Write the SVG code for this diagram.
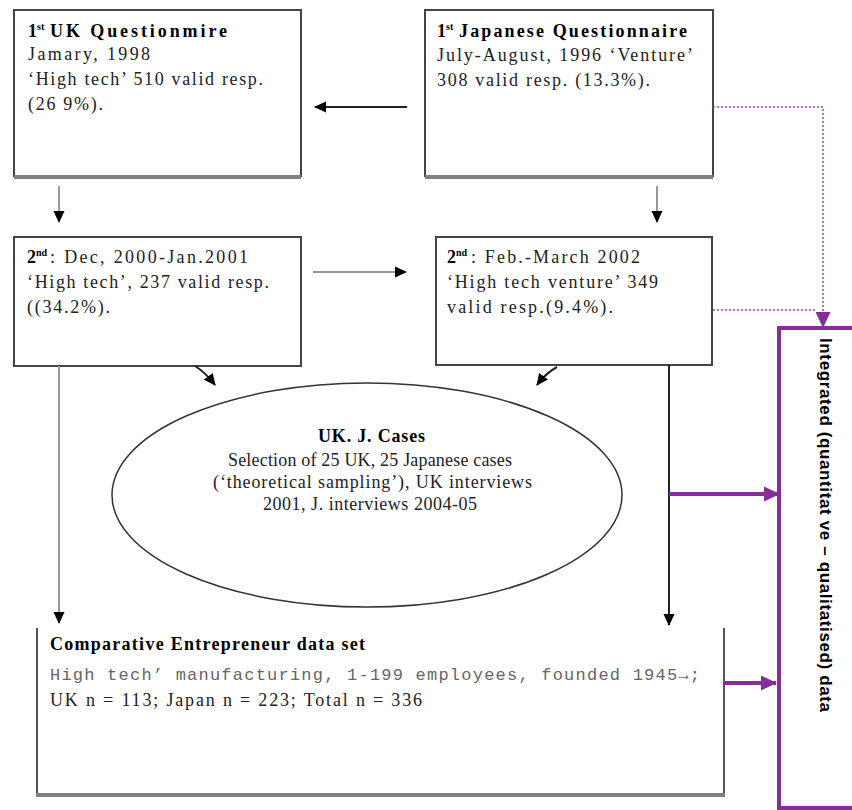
<svg xmlns="http://www.w3.org/2000/svg" width="852" height="810" viewBox="0 0 852 810">
<defs>
<marker id="ah" markerUnits="userSpaceOnUse" markerWidth="12" markerHeight="12" viewBox="0 0 12 12" refX="11" refY="6" orient="auto"><path d="M0,0.5 L12,6 L0,11.5 Z" fill="#000"/></marker>
<marker id="ahp" markerUnits="userSpaceOnUse" markerWidth="16" markerHeight="16" viewBox="0 0 16 16" refX="15" refY="8" orient="auto"><path d="M0,0.5 L16,8 L0,15.5 Z" fill="#862d9a"/></marker>
</defs>
<style>
.t{font-family:"Liberation Serif","Times New Roman",serif;font-size:18px;fill:#222}
.b{font-weight:bold;fill:#000}
.sup{font-family:"Liberation Serif","Times New Roman",serif;font-size:10px;font-weight:bold;fill:#000}
.m{font-family:"Liberation Mono","Courier New",monospace;font-size:17px;fill:#666}
.v{font-family:"Liberation Sans",Arial,sans-serif;font-size:17px;font-weight:bold;fill:#000}
.box{fill:#fff;stroke:#444;stroke-width:2}
.sh{stroke:#808080;stroke-width:4;fill:none}
.gl{stroke:#999;stroke-width:2;fill:none}
.bl{stroke:#222;stroke-width:2;fill:none}
.pl{stroke:#862d9a;stroke-width:4;fill:none}
.dot{stroke:#a040b8;stroke-width:1.5;stroke-dasharray:2 2;fill:none}
</style>
<rect width="852" height="810" fill="#fff"/>

<g id="uk1">
<rect class="box" x="14" y="10" width="287" height="166"/>
<line class="sh" x1="14" y1="177" x2="301" y2="177"/>
<text class="t b" x="28" y="37">1</text>
<text class="sup" x="37" y="30">st</text>
<text class="t b" x="50" y="37" textLength="177" lengthAdjust="spacing">UK Questionmire</text>
<text class="t" x="28" y="60" textLength="122" lengthAdjust="spacing">Jamary, 1998</text>
<text class="t" x="28" y="85" textLength="235" lengthAdjust="spacing">‘High tech’ 510 valid resp.</text>
<text class="t" x="28" y="110" textLength="75" lengthAdjust="spacing">(26 9%).</text>
</g>

<g id="jp1">
<rect class="box" x="425" y="10" width="288" height="166"/>
<line class="sh" x1="425" y1="177" x2="713" y2="177"/>
<text class="t b" x="437" y="37">1</text>
<text class="sup" x="446" y="30">st</text>
<text class="t b" x="459" y="37" textLength="228" lengthAdjust="spacing">Japanese Questionnaire</text>
<text class="t" x="437" y="61" textLength="256" lengthAdjust="spacing">July-August, 1996 ‘Venture’</text>
<text class="t" x="437" y="86" textLength="213" lengthAdjust="spacing">308 valid resp. (13.3%).</text>
</g>

<g id="uk2">
<rect class="box" x="14" y="237" width="287" height="129"/>
<text class="t b" x="27" y="263">2</text>
<text class="sup" x="36" y="256">nd</text>
<text class="t" x="50" y="263" textLength="198" lengthAdjust="spacing">: Dec, 2000-Jan.2001</text>
<text class="t" x="27" y="288" textLength="242" lengthAdjust="spacing">‘High tech’, 237 valid resp.</text>
<text class="t" x="27" y="313" textLength="83" lengthAdjust="spacing">((34.2%).</text>
</g>

<g id="jp2">
<rect class="box" x="436" y="237" width="276" height="128"/>
<text class="t b" x="447" y="263">2</text>
<text class="sup" x="456" y="256">nd</text>
<text class="t" x="471" y="263" textLength="169" lengthAdjust="spacing">: Feb.-March 2002</text>
<text class="t" x="447" y="288" textLength="211" lengthAdjust="spacing">‘High tech venture’ 349</text>
<text class="t" x="447" y="313" textLength="166" lengthAdjust="spacing">valid resp.(9.4%).</text>
</g>

<g id="cases">
<ellipse cx="367" cy="495" rx="255" ry="112" fill="#fff" stroke="#333" stroke-width="1.5"/>
<text class="t b" x="318" y="442" font-size="15" textLength="107" lengthAdjust="spacing">UK. J. Cases</text>
<text class="t" x="228" y="466" textLength="284" lengthAdjust="spacing">Selection of 25 UK, 25 Japanese cases</text>
<text class="t" x="213" y="488" textLength="319" lengthAdjust="spacing">(‘theoretical sampling’), UK interviews</text>
<text class="t" x="263" y="510" textLength="214" lengthAdjust="spacing">2001, J. interviews 2004-05</text>
</g>

<g id="dataset">
<path d="M37,628 V795 M724,628 V795" stroke="#555" stroke-width="2" fill="none"/>
<line class="sh" x1="36" y1="795" x2="725" y2="795"/>
<text class="t b" x="50" y="650" textLength="315" lengthAdjust="spacing">Comparative Entrepreneur data set</text>
<text class="m" x="50" y="680" textLength="650" lengthAdjust="spacing">High tech’  manufacturing, 1-199 employees, founded 1945→;</text>
<text class="t" x="50" y="706" textLength="372" lengthAdjust="spacing">UK n = 113; Japan n = 223; Total n = 336</text>
</g>

<g id="integrated">
<rect x="779" y="328" width="90" height="480" fill="none" stroke="#862d9a" stroke-width="4"/>
<text class="v" transform="translate(820,338) rotate(90)" textLength="374" lengthAdjust="spacing">Integrated (quantitat ve – qualitatised) data</text>
</g>

<g id="connectors">
<line class="bl" x1="407" y1="107" x2="315" y2="107" marker-end="url(#ah)"/>
<line class="gl" x1="59" y1="186" x2="59" y2="222" marker-end="url(#ah)"/>
<line class="gl" x1="657" y1="186" x2="657" y2="222" marker-end="url(#ah)"/>
<line class="gl" x1="313" y1="272" x2="406" y2="272" stroke="#888" marker-end="url(#ah)"/>
<path class="bl" d="M195,366 Q205,372 215,385" marker-end="url(#ah)"/>
<path class="bl" d="M557,367 Q546,373 537,385" marker-end="url(#ah)"/>
<line class="gl" x1="59" y1="366" x2="59" y2="623" marker-end="url(#ah)"/>
<line class="bl" x1="669" y1="365" x2="669" y2="625" marker-end="url(#ah)"/>
<line class="pl" x1="669" y1="494" x2="779" y2="494" marker-end="url(#ahp)"/>
<line class="pl" x1="724" y1="683" x2="776" y2="683" marker-end="url(#ahp)"/>
<polyline class="dot" points="713,107 823,107 823,327" marker-end="url(#ahp)"/>
<line class="dot" x1="713" y1="310" x2="815" y2="310"/>
</g>
</svg>
